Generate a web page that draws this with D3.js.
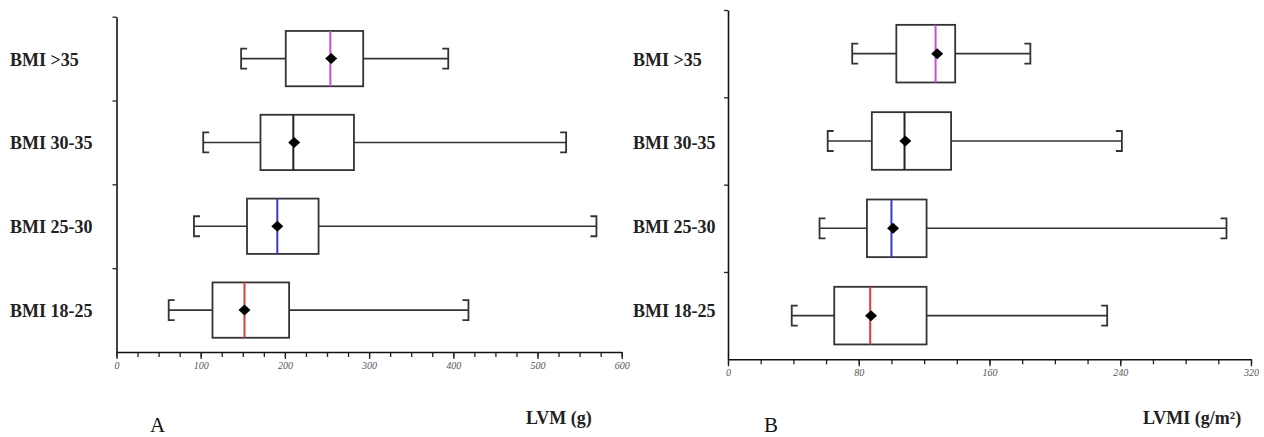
<!DOCTYPE html>
<html>
<head>
<meta charset="utf-8">
<script src="https://cdn.jsdelivr.net/npm/d3@7"></script>
<style>
  body { margin: 0; background: #fff; }
</style>
</head>
<body>
<svg class="chart"></svg>
<script>
var groups = ["BMI >35", "BMI 30-35", "BMI 25-30", "BMI 18-25"];

// panel A : LVM (g)
var lvmMin = [148, 103, 92, 62];
var lvmQ1 = [201, 171, 155, 114];
var lvmMedian = [254, 210, 191, 152];
var lvmQ3 = [293, 282, 240, 205];
var lvmMax = [394, 534, 570, 418];
var lvmMean = [255, 211, 191, 152];
var lvmTicks = [0, 100, 200, 300, 400, 500, 600];

// panel B : LVMI (g/m2)
var lvmiMin = [76, 61, 56, 39];
var lvmiQ1 = [103, 88, 85, 65];
var lvmiMedian = [127, 108, 100, 87];
var lvmiQ3 = [139, 136.5, 121.5, 121.5];
var lvmiMax = [185, 241, 305, 232];
var lvmiMean = [128, 108.5, 101, 87.5];
var lvmiTicks = [0, 80, 160, 240, 320];

var medianColor = ["#c94fcf", "#222222", "#3a3ac4", "#e03a3a"];

var width = 1264;
var height = 437;
var serif = "'Liberation Serif', 'Times New Roman', serif";

var svg = d3
  .select(".chart")
  .attr("width", width)
  .attr("height", height)
  .style("display", "block");

// category labels sit on the same rows in both panels
var labelY = d3.scaleBand().domain(groups).range([16.7, 352]);

function drawPanel(p) {
  var g = svg.append("g");
  var xMax = p.ticks[p.ticks.length - 1];
  var x = d3.scaleLinear().domain([0, xMax]).range([p.x0, p.x1]);
  var y = d3.scaleBand().domain(groups).range([p.y0, p.y1]);
  var yLin = d3.scaleLinear().domain([0, groups.length]).range([p.y1, p.y0]);

  var rows = groups.map(function (name, i) {
    return {
      name: name,
      min: p.min[i],
      q1: p.q1[i],
      median: p.median[i],
      q3: p.q3[i],
      max: p.max[i],
      mean: p.mean[i],
      color: medianColor[i]
    };
  });

  // minor ticks (4 per major step)
  var step = p.ticks[1] / 4;
  var minor = d3.range(0, xMax + step / 2, step);

  g.append("g")
    .attr("transform", "translate(0," + p.y1 + ")")
    .call(d3.axisBottom(x).tickValues(minor).tickFormat("").tickSize(5).tickSizeOuter(0))
    .call(function (a) { a.select(".domain").remove(); })
    .selectAll("line")
    .attr("stroke", "#222")
    .attr("stroke-width", 1.3);

  var xAxis = g.append("g")
    .attr("transform", "translate(0," + p.y1 + ")")
    .call(d3.axisBottom(x).tickValues(p.ticks).tickSize(7).tickSizeOuter(0));
  xAxis.select(".domain").attr("stroke", "#111").attr("stroke-width", 1.6);
  xAxis.selectAll("line").attr("stroke", "#222").attr("stroke-width", 1.3);
  xAxis.selectAll("text")
    .attr("y", 10)
    .style("font-family", serif)
    .style("font-style", "italic")
    .style("font-size", "10px")
    .style("fill", "#555");

  var yAxis = g.append("g")
    .attr("transform", "translate(" + p.x0 + ",0)")
    .call(d3.axisLeft(yLin).tickValues([1, 2, 3, 4]).tickFormat("").tickSize(4).tickSizeOuter(0));
  yAxis.select(".domain").attr("stroke", "#111").attr("stroke-width", 1.6);
  yAxis.selectAll("line").attr("stroke", "#222").attr("stroke-width", 1.3);

  var boxH = y.bandwidth() * 0.66;
  var capH = 20;
  var stub = 6;

  var box = g.selectAll("g.box")
    .data(rows)
    .enter()
    .append("g")
    .attr("class", "box")
    .attr("transform", function (d) {
      return "translate(0," + (y(d.name) + y.bandwidth() / 2) + ")";
    });

  // whiskers
  box.append("line")
    .attr("x1", function (d) { return x(d.min); })
    .attr("x2", function (d) { return x(d.q1); })
    .attr("stroke", "#333")
    .attr("stroke-width", 1.6);
  box.append("line")
    .attr("x1", function (d) { return x(d.q3); })
    .attr("x2", function (d) { return x(d.max); })
    .attr("stroke", "#333")
    .attr("stroke-width", 1.6);

  // whisker end brackets
  box.append("path")
    .attr("d", function (d) {
      var a = x(d.min);
      return "M" + (a + stub) + "," + (-capH / 2) + "H" + a + "V" + (capH / 2) + "H" + (a + stub);
    })
    .attr("fill", "none")
    .attr("stroke", "#333")
    .attr("stroke-width", 1.8);
  box.append("path")
    .attr("d", function (d) {
      var b = x(d.max);
      return "M" + (b - stub) + "," + (-capH / 2) + "H" + b + "V" + (capH / 2) + "H" + (b - stub);
    })
    .attr("fill", "none")
    .attr("stroke", "#333")
    .attr("stroke-width", 1.8);

  box.append("rect")
    .attr("x", function (d) { return x(d.q1); })
    .attr("y", -boxH / 2)
    .attr("width", function (d) { return x(d.q3) - x(d.q1); })
    .attr("height", boxH)
    .attr("fill", "#fff")
    .attr("stroke", "#333")
    .attr("stroke-width", 1.8);

  box.append("line")
    .attr("x1", function (d) { return x(d.median); })
    .attr("x2", function (d) { return x(d.median); })
    .attr("y1", -boxH / 2)
    .attr("y2", boxH / 2)
    .attr("stroke", function (d) { return d.color; })
    .attr("stroke-width", 2);

  // mean diamond
  box.append("path")
    .attr("d", function (d) {
      var c = x(d.mean);
      return "M" + (c - 6) + ",0L" + c + ",-5.5L" + (c + 6) + ",0L" + c + ",5.5Z";
    })
    .attr("fill", "#000");

  g.selectAll("text.cat")
    .data(groups)
    .enter()
    .append("text")
    .attr("class", "cat")
    .attr("x", p.labelX)
    .attr("y", function (d) { return labelY(d) + labelY.bandwidth() / 2 + 7; })
    .style("font-family", serif)
    .style("font-weight", "bold")
    .style("font-size", "18px")
    .style("fill", "#222")
    .text(function (d) { return d; });

  g.append("text")
    .attr("x", p.titleX)
    .attr("y", 424)
    .style("font-family", serif)
    .style("font-weight", "bold")
    .style("font-size", "18px")
    .style("fill", "#222")
    .text(p.title);

  g.append("text")
    .attr("x", p.letterX)
    .attr("y", 432)
    .style("font-family", serif)
    .style("font-size", "21px")
    .style("fill", "#111")
    .text(p.letter);
}

drawPanel({
  min: lvmMin, q1: lvmQ1, median: lvmMedian, q3: lvmQ3, max: lvmMax, mean: lvmMean,
  ticks: lvmTicks,
  x0: 116.5, x1: 621.7, y0: 16.7, y1: 352,
  labelX: 10, title: "LVM (g)", titleX: 526, letter: "A", letterX: 150
});

drawPanel({
  min: lvmiMin, q1: lvmiQ1, median: lvmiMedian, q3: lvmiQ3, max: lvmiMax, mean: lvmiMean,
  ticks: lvmiTicks,
  x0: 728, x1: 1251, y0: 10, y1: 359.3,
  labelX: 633, title: "LVMI (g/m²)", titleX: 1143, letter: "B", letterX: 764
});
</script>
</body>
</html>
